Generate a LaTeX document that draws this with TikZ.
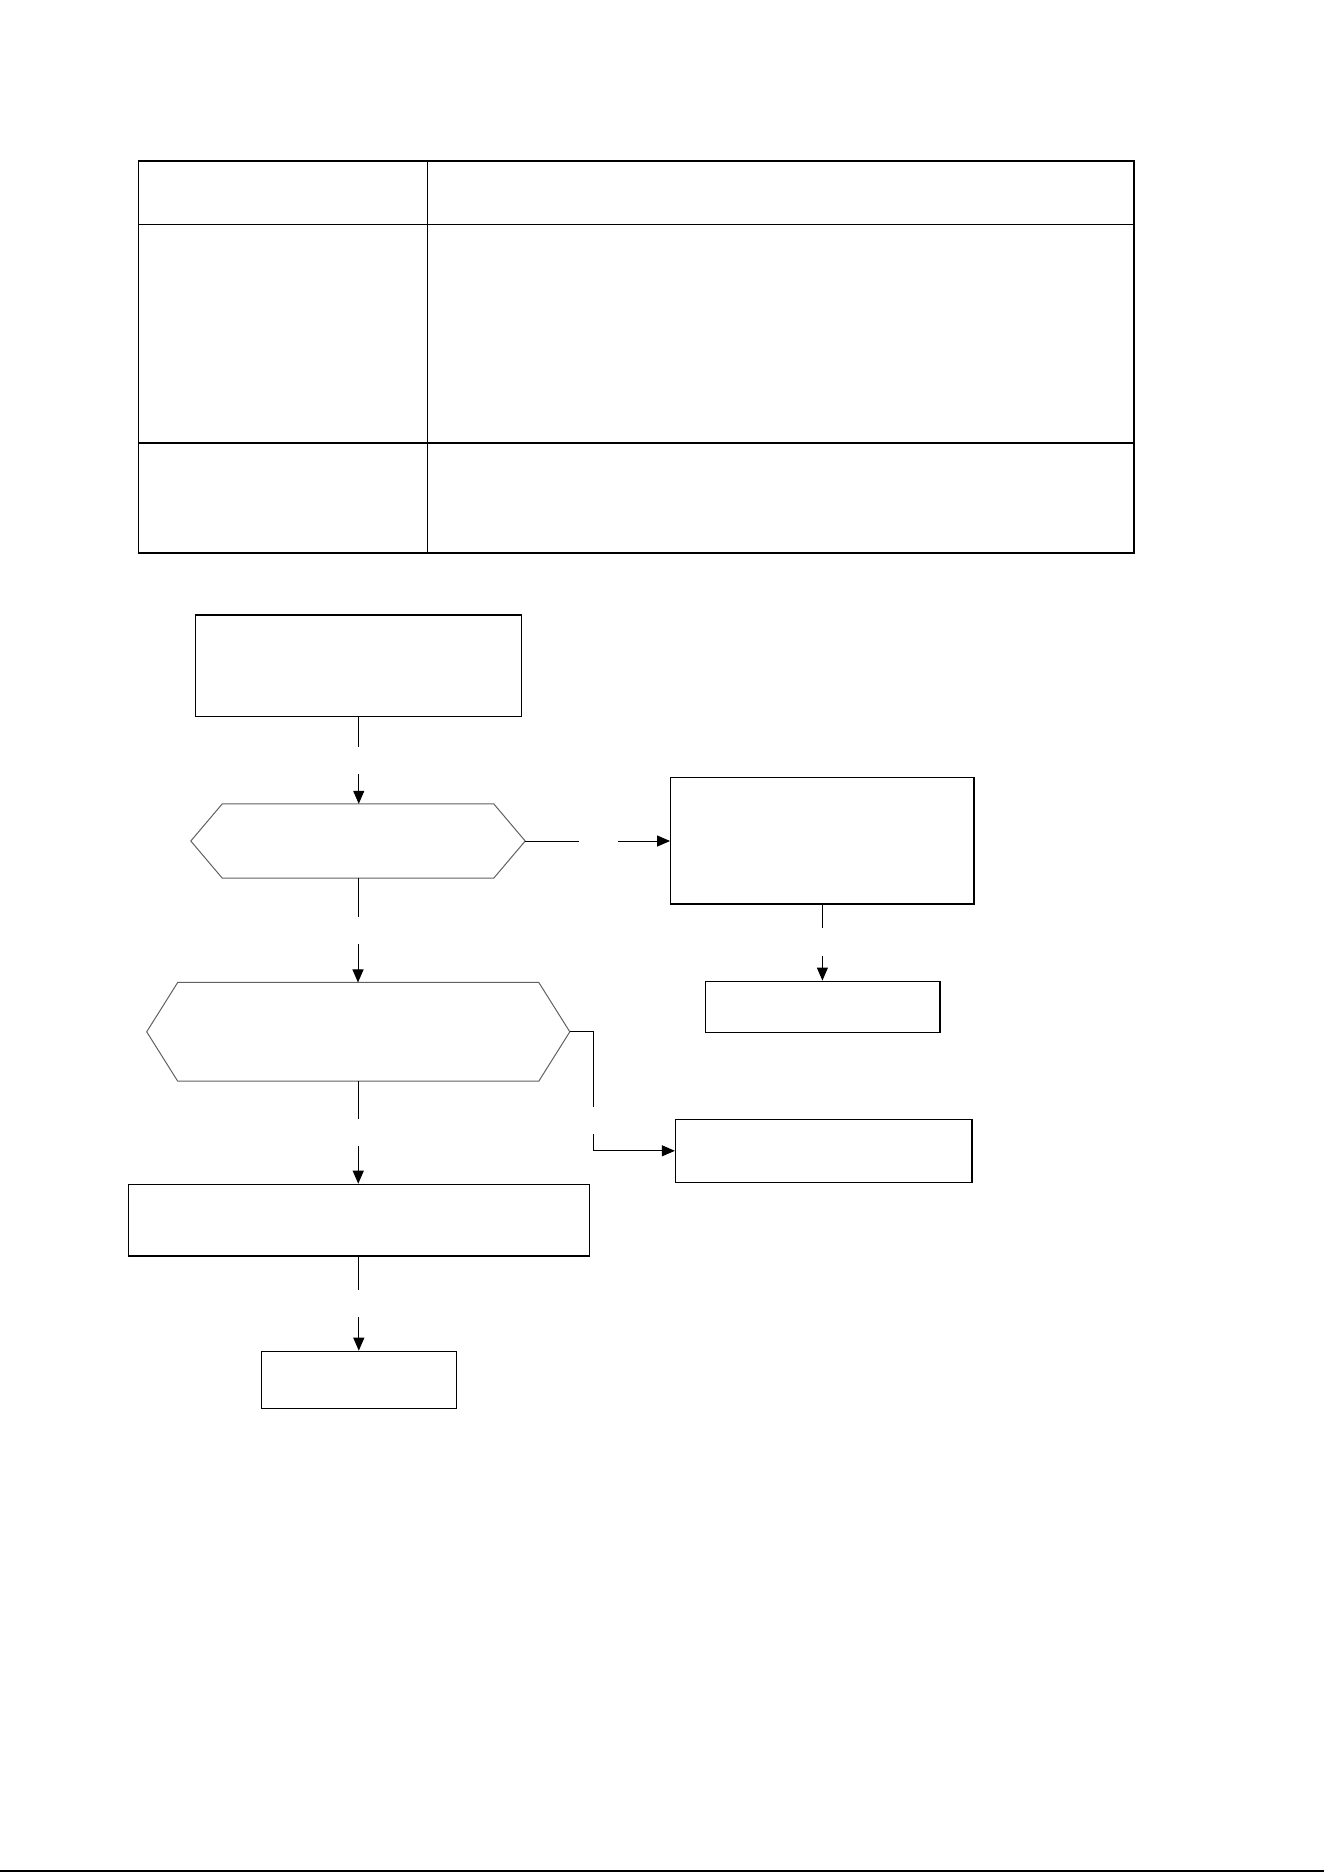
\documentclass[tikz,border=0pt]{standalone}
\usetikzlibrary{arrows.meta}
\begin{document}
\begin{tikzpicture}[x=1pt,y=-1pt,
  box/.style={draw=black,line width=1.3pt,rectangle,inner sep=0pt,fill=none},
  hexa/.style={rectangle,inner sep=0pt,draw=none},
  hexline/.style={draw=black!62,line width=1pt,line join=miter},
  conn/.style={draw=black,line width=1pt},
  arr/.style={conn,-{Triangle[length=13pt,width=11pt]}},
  tline/.style={line width=1.6pt},
]
\useasboundingbox (0,0) rectangle (1324,1872);
\fill[white] (0,0) rectangle (1324,1872);
% table
\draw[tline] (138.5,161.2) rectangle (1134.2,552.8);
\draw[tline] (138.5,224.5) -- (1134.2,224.5);
\draw[tline] (138.5,442.9) -- (1134.2,442.9);
\draw[line width=1pt] (427.4,161.2) -- (427.4,552.8);
% nodes
\node[box,minimum width=325.9pt,minimum height=101.4pt] (box1) at (358.75,665.6) {};
\node[hexa,minimum width=334pt,minimum height=74pt] (hex1) at (358,841) {};
\draw[hexline] (hex1.west) -- ([xshift=31.5pt]hex1.north west) -- ([xshift=-31.5pt]hex1.north east) -- (hex1.east) -- ([xshift=-31.5pt]hex1.south east) -- ([xshift=31.5pt]hex1.south west) -- cycle;
\node[box,minimum width=303.4pt,minimum height=126.7pt] (box2) at (822.4,840.7) {};
\node[box,minimum width=234.6pt,minimum height=51pt] (box3) at (822.7,1006.7) {};
\node[hexa,minimum width=422.7pt,minimum height=98.3pt] (hex2) at (358.25,1031.8) {};
\draw[hexline] (hex2.west) -- ([xshift=31pt]hex2.north west) -- ([xshift=-31pt]hex2.north east) -- (hex2.east) -- ([xshift=-31pt]hex2.south east) -- ([xshift=31pt]hex2.south west) -- cycle;
\node[box,minimum width=296.5pt,minimum height=63pt] (box4) at (823.75,1150.8) {};
\node[box,minimum width=461pt,minimum height=71.7pt] (box5) at (358.8,1220.2) {};
\node[box,minimum width=195pt,minimum height=57pt] (box6) at (359.1,1379.8) {};
% gap coordinates
\coordinate (a1) at (358.75,746.7);
\coordinate (a2) at (358.75,774);
\coordinate (b1) at (579,841);
\coordinate (b2) at (617.7,841);
\coordinate (c1) at (358,916.7);
\coordinate (c2) at (358,944);
\coordinate (d1) at (822.4,928.3);
\coordinate (d2) at (822.4,956);
\coordinate (e0) at (593.2,1031.8);
\coordinate (e1) at (593.2,1106.7);
\coordinate (e2) at (593.2,1134);
\coordinate (e3) at (593.2,1150.8);
\coordinate (f1) at (358.25,1118.7);
\coordinate (f2) at (358.25,1146);
\coordinate (g1) at (358.8,1290);
\coordinate (g2) at (358.8,1317);
% connectors
\draw[conn] (box1.south) -- (a1);
\draw[arr] (a2) -- (a2 |- hex1.north);
\draw[conn] (hex1.east) -- (b1);
\draw[arr] (b2) -- (box2.west |- b2);
\draw[conn] (hex1.south) -- (c1);
\draw[arr] (c2) -- (c2 |- hex2.north);
\draw[conn] (box2.south) -- (d1);
\draw[arr] (d2) -- (d2 |- box3.north);
\draw[conn] (hex2.east) -- (e0) -- (e1);
\draw[arr] (e2) -- (e3) -- (box4.west);
\draw[conn] (hex2.south) -- (f1);
\draw[arr] (f2) -- (f2 |- box5.north);
\draw[conn] (box5.south) -- (g1);
\draw[arr] (g2) -- (g2 |- box6.north);
% bottom rule
\fill[black] (0,1869.8) rectangle (1324,1872);
\end{tikzpicture}
\end{document}
